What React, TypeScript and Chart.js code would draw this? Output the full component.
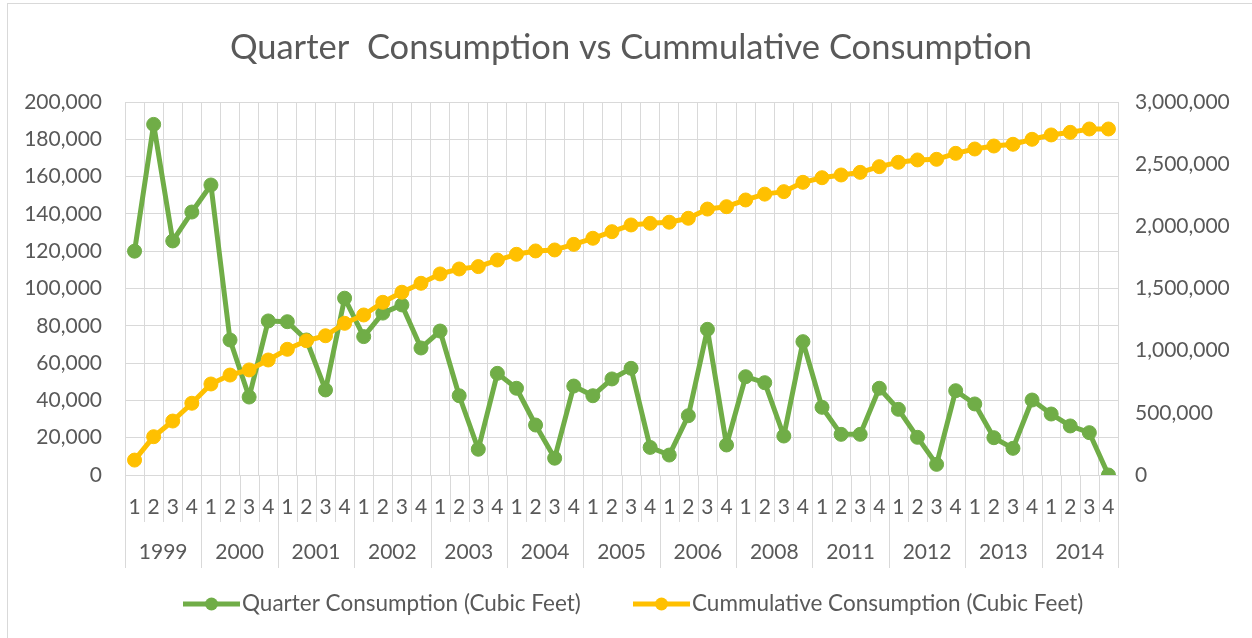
import React, { useEffect, useRef } from "react";
import { Chart, registerables } from "chart.js";

Chart.register(...registerables);

const years = ["1999", "2000", "2001", "2002", "2003", "2004", "2005", "2006", "2008", "2011", "2012", "2013", "2014"];
const quarters = ["1", "2", "3", "4"];

const quarterConsumption = [
  120000, 188000, 125500, 141000, 155500, 72400, 41800, 82600, 82200, 72400,
  45600, 94800, 74200, 86800, 91200, 68100, 77200, 42500, 13800, 54500,
  46500, 26800, 9000, 47700, 42500, 51500, 57200, 14800, 10700, 31800,
  78100, 16100, 52700, 49500, 20900, 71500, 36300, 21800, 21800, 46500,
  35200, 20200, 5700, 45200, 38100, 20000, 14300, 40200, 32700, 26300,
  22700, 0,
];

const cumulativeConsumption = [
  120000, 308000, 434000, 577000, 732000, 804000, 845000, 925000, 1011000, 1080000,
  1120000, 1220000, 1287000, 1389000, 1470000, 1542000, 1617000, 1657000, 1676000, 1729000,
  1775000, 1802000, 1810000, 1855000, 1904000, 1957000, 2011000, 2024000, 2033000, 2065000,
  2139000, 2158000, 2212000, 2259000, 2279000, 2354000, 2391000, 2413000, 2434000, 2480000,
  2515000, 2534000, 2539000, 2587000, 2622000, 2646000, 2660000, 2700000, 2735000, 2756000,
  2783000, 2783000,
];

const titleText = "Quarter  Consumption vs Cummulative Consumption";
const seriesNames = ["Quarter Consumption (Cubic Feet)", "Cummulative Consumption (Cubic Feet)"];

const FONT = "Lato";
const TEXT = "#595959";
const GRID = "#d9d9d9";
const GREEN = "#70AD47";
const YELLOW = "#FFC000";
const W = 1252;
const H = 638;

const labels = years.flatMap((y) => quarters.map((q) => [y, q]));

const decorPlugin = {
  id: "decor",
  afterDraw(chart: any) {
    const ctx = chart.ctx as CanvasRenderingContext2D;
    const xs = chart.scales.x;
    const area = chart.chartArea;
    const n = labels.length;
    const step = (area.right - area.left) / n;
    ctx.save();
    // category separators below the axis
    ctx.strokeStyle = GRID;
    ctx.lineWidth = 1;
    for (let i = 0; i <= n; i++) {
      const px = i < n ? xs.getPixelForValue(i) - step / 2 : xs.getPixelForValue(n - 1) + step / 2;
      const x = Math.round(px) + 0.5;
      const len = i % 4 === 0 ? 93 : 47;
      ctx.beginPath();
      ctx.moveTo(x, area.bottom);
      ctx.lineTo(x, area.bottom + len);
      ctx.stroke();
    }
    // year labels
    ctx.fillStyle = TEXT;
    ctx.font = `21px ${FONT}`;
    ctx.textAlign = "center";
    ctx.textBaseline = "middle";
    years.forEach((y, k) => {
      const cx = (xs.getPixelForValue(4 * k) + xs.getPixelForValue(4 * k + 3)) / 2;
      ctx.fillText(y, cx, area.bottom + 77);
    });
    // title
    ctx.font = `34.5px ${FONT}`;
    ctx.fillText(titleText, 631, 48);
    // legend
    const items = [
      { color: GREEN, x1: 183, x2: 240, text: seriesNames[0] },
      { color: YELLOW, x1: 633, x2: 690, text: seriesNames[1] },
    ];
    const ly = 604;
    ctx.font = `22.5px ${FONT}`;
    ctx.textAlign = "left";
    items.forEach((it) => {
      ctx.strokeStyle = it.color;
      ctx.lineWidth = 5;
      ctx.beginPath();
      ctx.moveTo(it.x1, ly);
      ctx.lineTo(it.x2, ly);
      ctx.stroke();
      ctx.fillStyle = it.color;
      ctx.beginPath();
      ctx.arc((it.x1 + it.x2) / 2, ly, 6.5, 0, Math.PI * 2);
      ctx.fill();
      ctx.fillStyle = TEXT;
      ctx.fillText(it.text, it.x2 + 2, ly);
    });
    ctx.restore();
  },
};

export default function App() {
  const ref = useRef<HTMLCanvasElement | null>(null);

  useEffect(() => {
    if (!ref.current) return;
    const chart = new Chart(ref.current, {
      type: "line",
      data: {
        labels,
        datasets: [
          {
            label: seriesNames[0],
            data: quarterConsumption,
            yAxisID: "y",
            borderColor: GREEN,
            backgroundColor: GREEN,
            borderWidth: 5,
            borderJoinStyle: "round",
            borderCapStyle: "round",
            pointRadius: 7,
            pointBorderWidth: 1,
            pointBackgroundColor: GREEN,
            pointBorderColor: GREEN,
            tension: 0,
            order: 2,
          },
          {
            label: seriesNames[1],
            data: cumulativeConsumption,
            yAxisID: "y1",
            borderColor: YELLOW,
            backgroundColor: YELLOW,
            borderWidth: 5,
            borderJoinStyle: "round",
            borderCapStyle: "round",
            pointRadius: 7,
            pointBorderWidth: 1,
            pointBackgroundColor: YELLOW,
            pointBorderColor: YELLOW,
            tension: 0,
            order: 1,
          },
        ],
      },
      options: {
        responsive: false,
        animation: false,
        devicePixelRatio: 1,
        layout: { padding: { top: 102, left: 0, right: 0, bottom: 0 } },
        plugins: {
          legend: { display: false },
          title: { display: false },
          tooltip: { enabled: false },
        },
        scales: {
          x: {
            type: "category",
            offset: true,
            grid: { offset: true, color: GRID, lineWidth: 1, drawTicks: false },
            border: { color: GRID },
            ticks: {
              autoSkip: false,
              maxRotation: 0,
              minRotation: 0,
              color: TEXT,
              font: { family: FONT, size: 21 },
              padding: 20,
              callback: (_v: any, i: number) => labels[i][1],
            },
            afterFit: (s: any) => {
              s.height = H - 475;
            },
          },
          y: {
            position: "left",
            min: 0,
            max: 200000,
            grid: { color: GRID, lineWidth: 1, drawTicks: false },
            border: { display: false },
            ticks: {
              stepSize: 20000,
              color: TEXT,
              font: { family: FONT, size: 21 },
              padding: 23,
              callback: (v: any) => Number(v).toLocaleString("en-US"),
            },
            afterFit: (s: any) => {
              s.width = 125;
            },
          },
          y1: {
            position: "right",
            min: 0,
            max: 3000000,
            grid: { drawOnChartArea: false, drawTicks: false },
            border: { display: false },
            ticks: {
              stepSize: 500000,
              color: TEXT,
              font: { family: FONT, size: 21 },
              padding: 17,
              callback: (v: any) => Number(v).toLocaleString("en-US"),
            },
            afterFit: (s: any) => {
              s.width = W - 1118;
            },
          },
        },
      },
      plugins: [decorPlugin],
    });
    return () => chart.destroy();
  }, []);

  return (
    <div style={{ position: "fixed", left: 0, top: 0, width: W, height: H, overflow: "hidden", background: "#fff" }}>
      <div
        style={{
          position: "absolute",
          left: 7,
          top: 3,
          width: W + 40,
          height: H + 40,
          border: "1px solid #d9d9d9",
          boxSizing: "border-box",
        }}
      />
      <canvas ref={ref} width={W} height={H} style={{ position: "absolute", left: 0, top: 0, width: W, height: H }} />
    </div>
  );
}
